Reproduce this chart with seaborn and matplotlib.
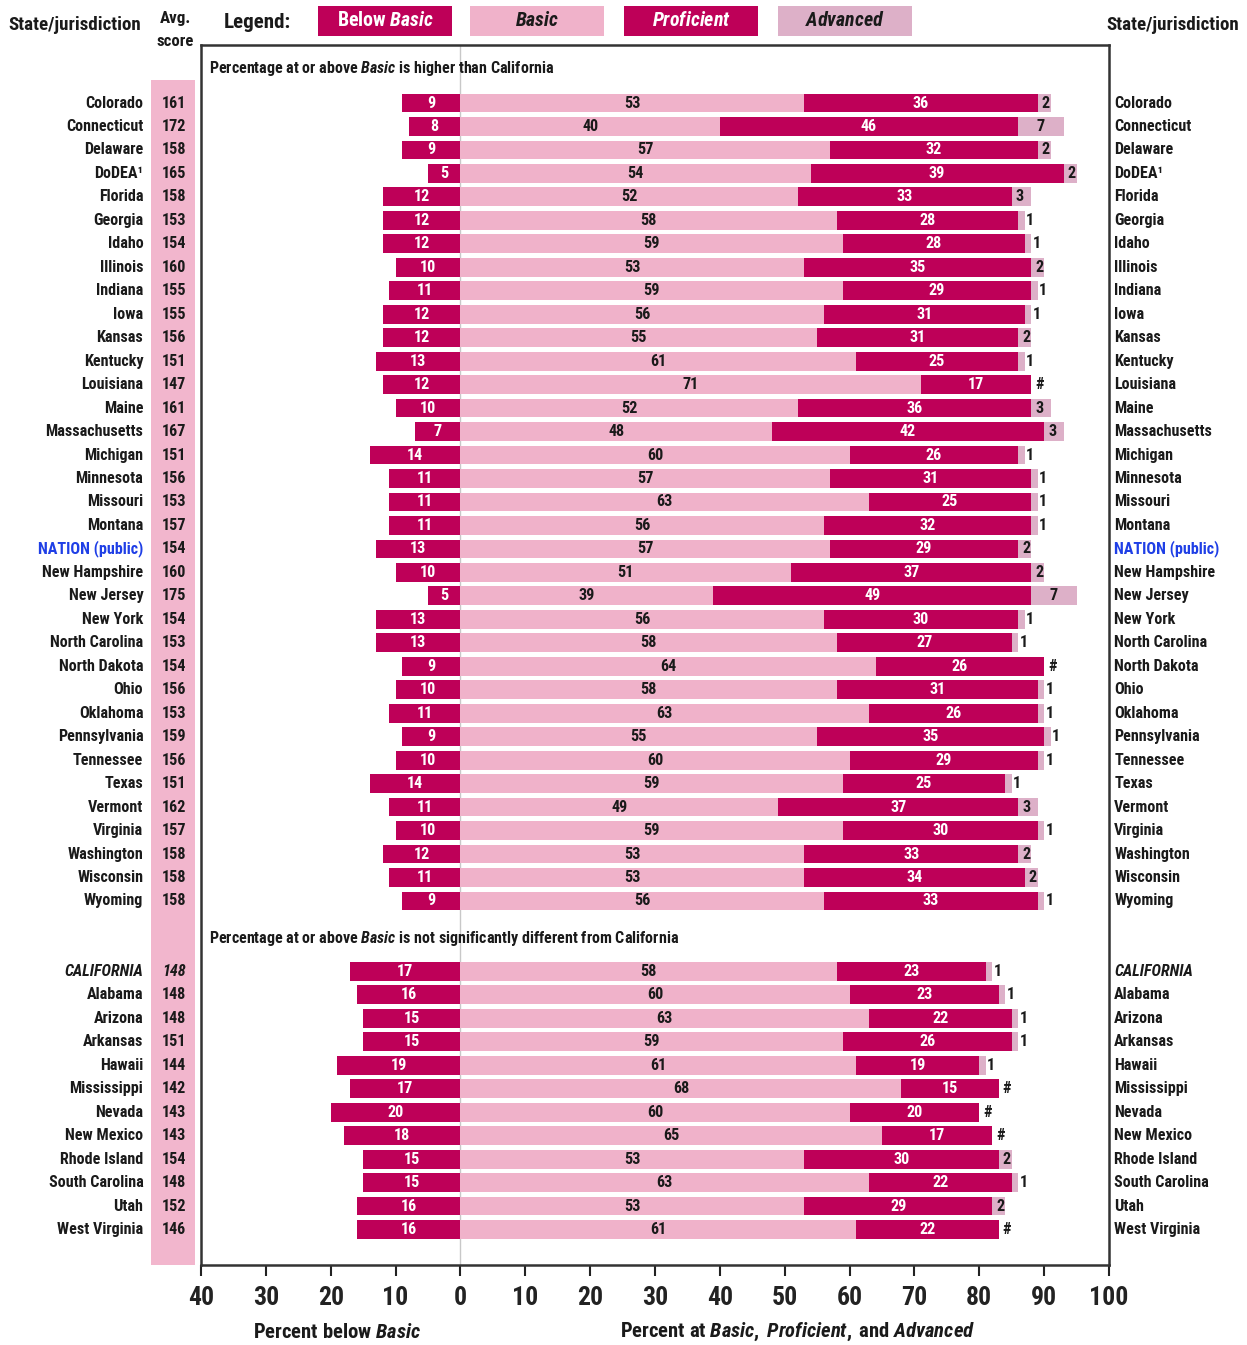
import numpy as np
import pandas as pd
import matplotlib
matplotlib.use("Agg")
import matplotlib.pyplot as plt
from matplotlib.patches import Rectangle
from matplotlib import font_manager
from matplotlib.font_manager import FontProperties
from matplotlib.textpath import TextPath
import seaborn as sns

# Data (# = rounds to zero, stored as 0)
states_hi = ["Colorado", "Connecticut", "Delaware", "DoDEA¹", "Florida", "Georgia", "Idaho",
             "Illinois", "Indiana", "Iowa", "Kansas", "Kentucky", "Louisiana", "Maine",
             "Massachusetts", "Michigan", "Minnesota", "Missouri", "Montana", "NATION (public)",
             "New Hampshire", "New Jersey", "New York", "North Carolina", "North Dakota", "Ohio",
             "Oklahoma", "Pennsylvania", "Tennessee", "Texas", "Vermont", "Virginia",
             "Washington", "Wisconsin", "Wyoming"]
avg_hi = [161, 172, 158, 165, 158, 153, 154, 160, 155, 155, 156, 151, 147, 161, 167, 151, 156,
          153, 157, 154, 160, 175, 154, 153, 154, 156, 153, 159, 156, 151, 162, 157, 158, 158, 158]
below_hi = [9, 8, 9, 5, 12, 12, 12, 10, 11, 12, 12, 13, 12, 10, 7, 14, 11, 11, 11, 13, 10, 5,
            13, 13, 9, 10, 11, 9, 10, 14, 11, 10, 12, 11, 9]
basic_hi = [53, 40, 57, 54, 52, 58, 59, 53, 59, 56, 55, 61, 71, 52, 48, 60, 57, 63, 56, 57, 51,
            39, 56, 58, 64, 58, 63, 55, 60, 59, 49, 59, 53, 53, 56]
prof_hi = [36, 46, 32, 39, 33, 28, 28, 35, 29, 31, 31, 25, 17, 36, 42, 26, 31, 25, 32, 29, 37,
           49, 30, 27, 26, 31, 26, 35, 29, 25, 37, 30, 33, 34, 33]
adv_hi = [2, 7, 2, 2, 3, 1, 1, 2, 1, 1, 2, 1, 0, 3, 3, 1, 1, 1, 1, 2, 2, 7, 1, 1, 0, 1, 1, 1,
          1, 1, 3, 1, 2, 2, 1]

states_ns = ["CALIFORNIA", "Alabama", "Arizona", "Arkansas", "Hawaii", "Mississippi", "Nevada",
             "New Mexico", "Rhode Island", "South Carolina", "Utah", "West Virginia"]
avg_ns = [148, 148, 148, 151, 144, 142, 143, 143, 154, 148, 152, 146]
below_ns = [17, 16, 15, 15, 19, 17, 20, 18, 15, 15, 16, 16]
basic_ns = [58, 60, 63, 59, 61, 68, 60, 65, 53, 63, 53, 61]
prof_ns = [23, 23, 22, 26, 19, 15, 20, 17, 30, 22, 29, 22]
adv_ns = [1, 1, 1, 1, 1, 0, 0, 0, 2, 1, 2, 0]

x_ticks = [-40, -30, -20, -10, 0, 10, 20, 30, 40, 50, 60, 70, 80, 90, 100]
x_tick_labels = ["40", "30", "20", "10", "0", "10", "20", "30", "40", "50", "60", "70", "80", "90", "100"]

DARK = "#BE0058"
LIGHT = "#F0B2CA"
ADV = "#DDB0C8"
COL_BG = "#F2B6CD"
BLUE = "#1F3FE6"
TXT = "#1a1a1a"

sns.set_style("white")

# pick the narrowest installed sans family
names = {f.name for f in font_manager.fontManager.ttflist}
FONT, STRETCH = "DejaVu Sans", "normal"
for cand in ["Liberation Sans Narrow", "Roboto Condensed", "DejaVu Sans Condensed",
             "Noto Sans Condensed", "Open Sans Condensed", "Roboto"]:
    if cand in names:
        FONT = cand
        break
cond = [f for f in font_manager.fontManager.ttflist
        if str(f.stretch) in ("condensed", "semi-condensed", "extra-condensed")]
if FONT in ("Roboto", "DejaVu Sans") and cond:
    FONT, STRETCH = cond[0].name, "condensed"

plt.rcParams["font.family"] = [FONT, "DejaVu Sans"]
plt.rcParams["font.weight"] = "bold"
plt.rcParams["font.stretch"] = STRETCH
plt.rcParams["mathtext.fontset"] = "custom"
plt.rcParams["mathtext.rm"] = FONT + ":bold"
plt.rcParams["mathtext.bf"] = FONT + ":bold"
plt.rcParams["mathtext.it"] = FONT + ":italic:bold"


def fit(s, target_px, style="normal"):
    # font size (pt) that makes s about target_px wide at 100 dpi
    prop = FontProperties(family=FONT, weight="bold", style=style, stretch=STRETCH)
    w = TextPath((0, 0), s, size=10, prop=prop).get_extents().width * 100 / 72
    return 10 * target_px / w


fs = min(fit("Massachusetts", 96), 13)
fs_num = min(fit("161", 26), fs)
fs_sec = min(fit("Percentage at or above Basic is higher than California", 344), 12)
fs_head = min(fit("State/jurisdiction", 131), 15)
fs_tick = min(fit("100", 36), 19)
fs_ax = min(fit("Percent below Basic", 166), 16)
fs_leg = min(fit("Below Basic", 95), 16)

# rows: gap of 2 empty rows between the two groups
pos = list(range(len(states_hi))) + list(range(len(states_hi) + 2, len(states_hi) + 2 + len(states_ns)))
df = pd.DataFrame({
    "state": states_hi + states_ns,
    "avg": avg_hi + avg_ns,
    "below": below_hi + below_ns,
    "basic": basic_hi + basic_ns,
    "prof": prof_hi + prof_ns,
    "adv": adv_hi + adv_ns,
    "pos": pos,
})
df["bp"] = df["basic"] + df["prof"]
df["total"] = df["bp"] + df["adv"]
df["neg"] = -df["below"]

W, H = 1247, 1345
fig = plt.figure(figsize=(W / 100, H / 100), dpi=100)
ax = fig.add_axes([201 / W, (H - 1265) / H, 908 / W, 1220 / H])

bar_kw = dict(y="pos", orient="y", native_scale=True, width=0.8, errorbar=None,
              linewidth=0, saturation=1, ax=ax)
sns.barplot(data=df, x="total", color=ADV, **bar_kw)
sns.barplot(data=df, x="bp", color=DARK, **bar_kw)
sns.barplot(data=df, x="basic", color=LIGHT, **bar_kw)
sns.barplot(data=df, x="neg", color=DARK, **bar_kw)

row_px = 23.47
y_bot, y_top = (1265 - 103) / row_px, (45 - 103) / row_px
ax.set_xlim(-40, 100)
ax.set_ylim(y_bot, y_top)
ax.axvline(0, color="#c8c8c8", lw=1, zorder=0.5)

for _, r in df.iterrows():
    y = r["pos"]
    ax.text(-r["below"] / 2, y, str(r["below"]), color="white", ha="center", va="center", fontsize=fs_num)
    ax.text(r["basic"] / 2, y, str(r["basic"]), color=TXT, ha="center", va="center", fontsize=fs_num)
    ax.text(r["basic"] + r["prof"] / 2, y, str(r["prof"]), color="white", ha="center", va="center", fontsize=fs_num)
    if r["adv"] == 0:
        ax.text(r["bp"] + 0.6, y, "#", color=TXT, ha="left", va="center", fontsize=fs_num)
    elif r["adv"] >= 5:
        ax.text(r["bp"] + r["adv"] / 2, y, str(r["adv"]), color=TXT, ha="center", va="center", fontsize=fs_num)
    else:
        off = 1.2 if r["adv"] == 1 else 0.6
        ax.text(r["bp"] + off, y, str(r["adv"]), color=TXT, ha="left", va="center", fontsize=fs_num)

    color = BLUE if r["state"].startswith("NATION") else TXT
    style = "italic" if r["state"] == "CALIFORNIA" else "normal"
    ax.text(-48.9, y, r["state"], ha="right", va="center", fontsize=fs, color=color,
            style=style, clip_on=False)
    ax.text(100.8, y, r["state"], ha="left", va="center", fontsize=fs, color=color,
            style=style, clip_on=False)
    ax.text(-44.2, y, str(r["avg"]), ha="center", va="center", fontsize=fs_num, color=TXT,
            style=style, clip_on=False, zorder=5)

# pink avg score column
col_top = (80 - 103) / row_px
ax.add_patch(Rectangle((-47.7, col_top), 6.8, y_bot - col_top, color=COL_BG, clip_on=False,
                       lw=0, zorder=0))

# section headers
ax.text(-38.8, (69 - 103) / row_px, r"Percentage at or above $\mathit{Basic}$ is higher than California",
        ha="left", va="center", fontsize=fs_sec, color=TXT)
ax.text(-38.8, (938 - 103) / row_px,
        r"Percentage at or above $\mathit{Basic}$ is not significantly different from California",
        ha="left", va="center", fontsize=fs_sec, color=TXT)

ax.set_xlabel("")
ax.set_ylabel("")
ax.set_yticks([])
ax.set_xticks(x_ticks)
ax.set_xticklabels(x_tick_labels, fontsize=fs_tick)
ax.tick_params(axis="x", direction="out", length=8, width=1.5, pad=7, colors="#222222",
               bottom=True)
for s in ax.spines.values():
    s.set_visible(True)
    s.set_color("#333333")
    s.set_linewidth(1.8)


def ftext(x, y, s, **kw):
    fig.text(x / W, 1 - y / H, s, va="center", color=kw.pop("color", TXT), **kw)


ftext(75, 25, "State/jurisdiction", ha="center", fontsize=fs_head)
ftext(1173, 25, "State/jurisdiction", ha="center", fontsize=fs_head)
ftext(175, 18, "Avg.", ha="center", fontsize=min(fit("Avg.", 30), 14))
ftext(175, 41, "score", ha="center", fontsize=min(fit("score", 36), 14))
ftext(257, 22, "Legend:", ha="center", fontsize=min(fit("Legend:", 65), 16))

legend_items = [(318, DARK, r"Below $\mathit{Basic}$", "white"),
                (470, LIGHT, r"$\mathit{Basic}$", TXT),
                (624, DARK, r"$\mathit{Proficient}$", "white"),
                (778, ADV, r"$\mathit{Advanced}$", TXT)]
for x0, c, label, tc in legend_items:
    fig.add_artist(Rectangle((x0 / W, 1 - 36 / H), 134 / W, 30 / H, transform=fig.transFigure,
                             color=c, lw=0))
    ftext(x0 + 67, 21, label, ha="center", fontsize=fs_leg, color=tc)

ftext(337, 1332, r"Percent below $\mathit{Basic}$", ha="center", fontsize=fs_ax)
ftext(798, 1332, r"Percent at $\mathit{Basic,}$ $\mathit{Proficient,}$ and $\mathit{Advanced}$",
      ha="center", fontsize=fs_ax)

fig.savefig("out.png", dpi=100)
